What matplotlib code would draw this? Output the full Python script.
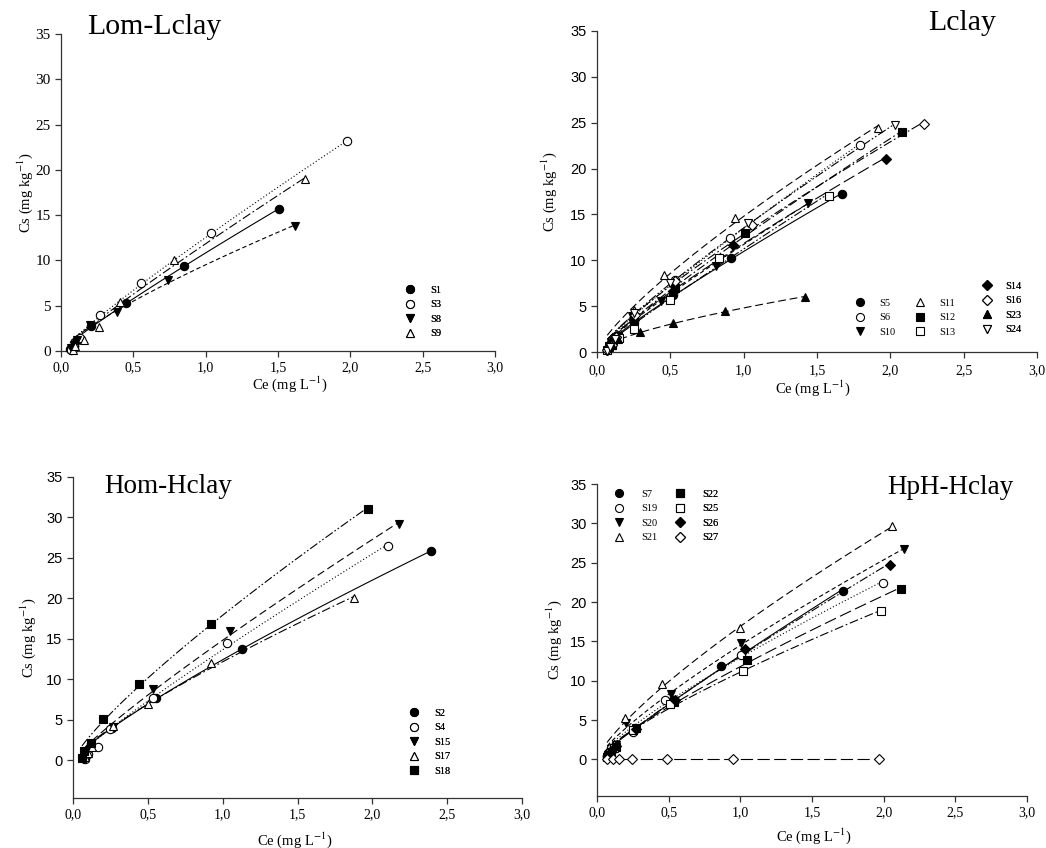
import numpy as np
import matplotlib
matplotlib.use('Agg')
import matplotlib.pyplot as plt
from matplotlib.lines import Line2D
from matplotlib.ticker import FuncFormatter

plt.rcParams['font.family'] = ['Liberation Serif', 'DejaVu Serif']
plt.rcParams['mathtext.fontset'] = 'stix'

# ---- data: Ce (mg/L), Cs (mg/kg) ----
# Lom-Lclay
S1_ce = [0.065, 0.09, 0.11, 0.21, 0.446, 0.85, 1.51]
S1_cs = [0.2, 0.6, 1.2, 2.8, 5.26, 9.4, 15.7]
S3_ce = [0.07, 0.09, 0.13, 0.269, 0.556, 1.04, 1.98]
S3_cs = [0.1, 0.6, 1.4, 3.97, 7.54, 13.0, 23.2]
S8_ce = [0.07, 0.09, 0.108, 0.2, 0.384, 0.74, 1.62]
S8_cs = [0.3, 0.7, 1.2, 2.87, 4.34, 7.84, 13.8]
S9_ce = [0.08, 0.1, 0.16, 0.26, 0.41, 0.78, 1.69]
S9_cs = [0.1, 0.5, 1.2, 2.7, 5.44, 10.0, 18.95]

# Lclay
S5_ce = [0.07, 0.09, 0.13, 0.25, 0.52, 0.913, 1.67]
S5_cs = [0.2, 0.6, 1.5, 3.2, 6.2, 10.3, 17.2]
S6_ce = [0.07, 0.09, 0.12, 0.25, 0.534, 0.904, 1.79]
S6_cs = [0.2, 0.6, 1.5, 4.0, 7.9, 12.4, 22.6]
S10_ce = [0.07, 0.09, 0.12, 0.24, 0.438, 0.81, 1.44]
S10_cs = [0.1, 0.5, 1.3, 3.9, 5.57, 9.4, 16.3]
S11_ce = [0.07, 0.1, 0.13, 0.25, 0.46, 0.94, 1.915]
S11_cs = [0.3, 0.8, 1.8, 4.6, 8.45, 14.56, 24.4]
S12_ce = [0.08, 0.1, 0.14, 0.25, 0.53, 1.006, 2.08]
S12_cs = [0.6, 1.0, 1.7, 3.8, 7.0, 13.0, 23.95]
S13_ce = [0.07, 0.1, 0.152, 0.25, 0.495, 0.83, 1.58]
S13_cs = [0.2, 0.8, 1.53, 2.55, 5.64, 10.2, 16.96]
S14_ce = [0.08, 0.1, 0.13, 0.25, 0.52, 0.93, 1.97]
S14_cs = [0.5, 0.9, 1.6, 3.5, 6.7, 11.65, 21.0]
S16_ce = [0.07, 0.1, 0.13, 0.26, 0.53, 1.06, 2.23]
S16_cs = [0.2, 0.8, 1.6, 4.0, 7.7, 13.9, 24.9]
S23_ce = [0.08, 0.1, 0.14, 0.295, 0.518, 0.875, 1.42]
S23_cs = [0.5, 0.8, 1.4, 2.18, 3.17, 4.44, 6.0]
S24_ce = [0.07, 0.09, 0.12, 0.25, 0.5, 1.03, 2.03]
S24_cs = [0.1, 0.5, 1.4, 4.2, 7.5, 14.1, 24.75]

# Hom-Hclay
S2_ce = [0.07, 0.09, 0.12, 0.26, 0.554, 1.127, 2.39]
S2_cs = [0.3, 0.9, 2.0, 4.0, 7.74, 13.8, 25.8]
S4_ce = [0.08, 0.1, 0.165, 0.25, 0.532, 1.027, 2.106]
S4_cs = [0.2, 0.8, 1.64, 3.9, 7.74, 14.5, 26.5]
S15_ce = [0.07, 0.09, 0.12, 0.27, 0.536, 1.049, 2.18]
S15_cs = [0.2, 0.8, 1.5, 4.1, 8.85, 15.96, 29.2]
S17_ce = [0.08, 0.1, 0.13, 0.27, 0.503, 0.922, 1.88]
S17_cs = [0.4, 0.9, 1.6, 4.2, 7.0, 12.0, 20.0]
S18_ce = [0.06, 0.073, 0.12, 0.2025, 0.443, 0.922, 1.968]
S18_cs = [0.3, 1.1, 2.14, 5.06, 9.47, 16.9, 31.1]

# HpH-Hclay
S7_ce = [0.07, 0.09, 0.12, 0.25, 0.53, 0.867, 1.714]
S7_cs = [0.4, 0.8, 1.5, 3.6, 7.5, 11.93, 21.45]
S19_ce = [0.07, 0.08, 0.1, 0.25, 0.477, 1.005, 1.993]
S19_cs = [0.4, 0.8, 1.5, 3.5, 7.6, 13.3, 22.4]
S20_ce = [0.07, 0.1, 0.13, 0.204, 0.516, 1.005, 2.14]
S20_cs = [0.3, 1.0, 1.8, 4.65, 8.25, 14.8, 26.7]
S21_ce = [0.07, 0.09, 0.12, 0.193, 0.454, 1.0, 2.06]
S21_cs = [0.5, 1.2, 2.0, 5.3, 9.52, 16.7, 29.6]
S22_ce = [0.08, 0.1, 0.13, 0.27, 0.54, 1.047, 2.12]
S22_cs = [0.5, 0.9, 1.6, 4.0, 7.3, 12.6, 21.66]
S25_ce = [0.07, 0.09, 0.12, 0.25, 0.507, 1.016, 1.984]
S25_cs = [0.3, 0.8, 1.5, 3.7, 6.98, 11.2, 18.9]
S26_ce = [0.08, 0.1, 0.13, 0.27, 0.546, 1.035, 2.047]
S26_cs = [0.5, 1.0, 1.7, 3.9, 7.6, 14.05, 24.75]
S27_ce = [0.07, 0.11, 0.15, 0.244, 0.489, 0.946, 1.965]
S27_cs = [0, 0, 0, 0, 0, 0, 0]

x_ticks = [0.0, 0.5, 1.0, 1.5, 2.0, 2.5, 3.0]
y_ticks = [0, 5, 10, 15, 20, 25, 30, 35]

# marker styles (marker, filled)
FC = ('o', True); OC = ('o', False); FDT = ('v', True); OUT = ('^', False)
FS = ('s', True); OS = ('s', False); FD = ('D', True); OD = ('D', False)
FUT = ('^', True); ODT = ('v', False)

SOLID = '-'
DOT = (0, (1, 2))
SDASH = (0, (4, 2.5))
DASHDOT = (0, (8, 2.5, 1.5, 2.5))
MDASH = (0, (7, 3.5))
DDOT = (0, (8, 2, 1.5, 2, 1.5, 2))
LDASH = (0, (11, 4))


def draw(ax, name, ce, cs, mk, ls):
    ce = np.array(ce)
    cs = np.array(cs)
    if np.all(cs <= 0):
        ax.plot([ce.min(), ce.max()], [0, 0], color='black', lw=0.8, ls=ls)
    else:
        # Freundlich fit (weighted log-log)
        m = cs > 0
        n, lk = np.polyfit(np.log(ce[m]), np.log(cs[m]), 1, w=cs[m])
        xx = np.linspace(ce.min(), ce.max(), 100)
        ax.plot(xx, np.exp(lk) * xx ** n, color='black', lw=0.8, ls=ls)
    ms = 5.3 if mk[0] == 'D' else 6.0
    ax.plot(ce, cs, ls='none', marker=mk[0], ms=ms, mec='black', mew=0.8,
            mfc='black' if mk[1] else 'white', clip_on=False, zorder=3)


def add_legend(ax, items, x, y, pad=1.4, spacing=0.5):
    hs = []
    for name, mk in items:
        ms = 5.0 if mk[0] == 'D' else 5.8
        hs.append(Line2D([], [], ls='none', marker=mk[0], ms=ms, mec='black', mew=0.8,
                         mfc='black' if mk[1] else 'white', label=name))
    leg = ax.legend(handles=hs, loc='upper left', bbox_to_anchor=(x, y), frameon=False,
                    fontsize=7.5, handlelength=1.0, handletextpad=pad, borderpad=0,
                    borderaxespad=0, labelspacing=spacing)
    ax.add_artist(leg)


def style(ax, ylow, title, tx, ty, tsize, ysans, lx, ly, xlx, xly, xpad=3.5):
    ax.set_xlim(0, 3)
    ax.set_ylim(ylow, 35)
    ax.set_xticks(x_ticks)
    ax.set_yticks(y_ticks)
    ax.xaxis.set_major_formatter(FuncFormatter(lambda v, p: f'{v:.1f}'.replace('.', ',')))
    for s in ['top', 'right']:
        ax.spines[s].set_visible(False)
    for s in ['left', 'bottom']:
        ax.spines[s].set_linewidth(0.9)
        ax.spines[s].set_color('#333333')
    ax.tick_params(direction='out', length=4, width=0.9, color='#333333')
    ax.tick_params(axis='x', pad=xpad)
    for t in ax.get_xticklabels():
        t.set_fontsize(10)
    for t in ax.get_yticklabels():
        if ysans:
            t.set_family('Liberation Sans')
            t.set_fontsize(10.5)
        else:
            t.set_fontsize(11)
    ax.text(tx, ty, title, transform=ax.transAxes, ha='center', va='center', fontsize=tsize)
    ax.text(lx, ly, 'Cs (mg kg$^{-1}$)', transform=ax.transAxes, ha='center', va='center',
            rotation=90, fontsize=10.5)
    ax.text(xlx, xly, 'Ce (mg L$^{-1}$)', transform=ax.get_xaxis_transform(),
            ha='center', va='center', fontsize=10.5)


W, H = 1046, 848
fig = plt.figure(figsize=(W / 100, H / 100), dpi=100)


def box(l, r, t, b):
    return [l / W, 1 - b / H, (r - l) / W, (b - t) / H]


ax1 = fig.add_axes(box(61, 495, 34, 351))
ax2 = fig.add_axes(box(597, 1037, 31, 352))
ax3 = fig.add_axes(box(73, 522, 477, 798))
ax4 = fig.add_axes(box(597, 1027, 484, 796))

# Lom-Lclay
draw(ax1, 'S1', S1_ce, S1_cs, FC, SOLID)
draw(ax1, 'S3', S3_ce, S3_cs, OC, DOT)
draw(ax1, 'S8', S8_ce, S8_cs, FDT, SDASH)
draw(ax1, 'S9', S9_ce, S9_cs, OUT, DASHDOT)
style(ax1, 0, 'Lom-Lclay', 0.214, 1.022, 21.5, False, -0.083, 0.5, 1.58, -0.105)
add_legend(ax1, [('S1', FC), ('S3', OC), ('S8', FDT), ('S9', OUT)], 0.793, 0.207)

# Lclay
draw(ax2, 'S5', S5_ce, S5_cs, FC, SOLID)
draw(ax2, 'S6', S6_ce, S6_cs, OC, DOT)
draw(ax2, 'S10', S10_ce, S10_cs, FDT, SDASH)
draw(ax2, 'S11', S11_ce, S11_cs, OUT, MDASH)
draw(ax2, 'S12', S12_ce, S12_cs, FS, DASHDOT)
draw(ax2, 'S13', S13_ce, S13_cs, OS, DDOT)
draw(ax2, 'S14', S14_ce, S14_cs, FD, LDASH)
draw(ax2, 'S16', S16_ce, S16_cs, OD, DASHDOT)
draw(ax2, 'S23', S23_ce, S23_cs, FUT, MDASH)
draw(ax2, 'S24', S24_ce, S24_cs, ODT, DDOT)
style(ax2, 0, 'Lclay', 0.83, 1.025, 21.5, True, -0.109, 0.5, 1.47, -0.112, xpad=5)
add_legend(ax2, [('S5', FC), ('S6', OC), ('S10', FDT)], 0.586, 0.167, pad=1.35)
add_legend(ax2, [('S11', OUT), ('S12', FS), ('S13', OS)], 0.722, 0.167, pad=1.35)
add_legend(ax2, [('S14', FD), ('S16', OD), ('S23', FUT), ('S24', ODT)], 0.875, 0.220, pad=1.25)

# Hom-Hclay
draw(ax3, 'S2', S2_ce, S2_cs, FC, SOLID)
draw(ax3, 'S4', S4_ce, S4_cs, OC, DOT)
draw(ax3, 'S15', S15_ce, S15_cs, FDT, MDASH)
draw(ax3, 'S17', S17_ce, S17_cs, OUT, DASHDOT)
draw(ax3, 'S18', S18_ce, S18_cs, FS, DDOT)
style(ax3, -4.65, 'Hom-Hclay', 0.212, 0.969, 19.5, True, -0.1, 0.5, 1.48, -0.131)
add_legend(ax3, [('S2', FC), ('S4', OC), ('S15', FDT), ('S17', OUT), ('S18', FS)],
           0.748, 0.279)

# HpH-Hclay
draw(ax4, 'S7', S7_ce, S7_cs, FC, SOLID)
draw(ax4, 'S19', S19_ce, S19_cs, OC, DOT)
draw(ax4, 'S20', S20_ce, S20_cs, FDT, SDASH)
draw(ax4, 'S21', S21_ce, S21_cs, OUT, MDASH)
draw(ax4, 'S22', S22_ce, S22_cs, FS, LDASH)
draw(ax4, 'S25', S25_ce, S25_cs, OS, DASHDOT)
draw(ax4, 'S26', S26_ce, S26_cs, FD, DDOT)
draw(ax4, 'S27', S27_ce, S27_cs, OD, LDASH)
style(ax4, -4.65, 'HpH-Hclay', 0.821, 0.99, 19.5, True, -0.1, 0.5, 1.51, -0.13)
add_legend(ax4, [('S7', FC), ('S19', OC), ('S20', FDT), ('S21', OUT)], 0.039, 0.982, pad=1.6)
add_legend(ax4, [('S22', FS), ('S25', OS), ('S26', FD), ('S27', OD)], 0.181, 0.982, pad=1.6)

fig.savefig('out.png', dpi=100)
